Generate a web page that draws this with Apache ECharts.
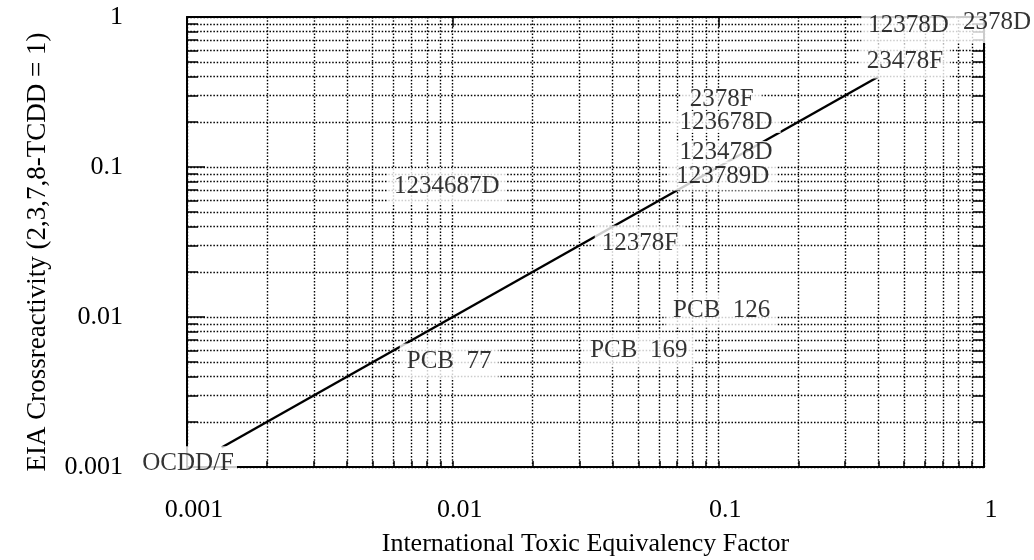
<!DOCTYPE html>
<html><head><meta charset="utf-8">
<script src="https://cdn.jsdelivr.net/npm/echarts@6/dist/echarts.min.js"></script>
<style>html,body{margin:0;padding:0;background:#fff}#c{width:1034px;height:560px}</style>
</head><body><div id="c"></div>
<script>
// Decade ticks and their labels (both axes)
const tickValues = [0.001, 0.01, 0.1, 1];
const tickLabels = ['0.001', '0.01', '0.1', '1'];
// All grid / minor tick positions
const gridValues = [0.001, 0.002, 0.003, 0.004, 0.005, 0.006, 0.007, 0.008, 0.009,
                    0.01, 0.02, 0.03, 0.04, 0.05, 0.06, 0.07, 0.08, 0.09,
                    0.1, 0.2, 0.3, 0.4, 0.5, 0.6, 0.7, 0.8, 0.9, 1];
const innerMajor = [0.01, 0.1];
// 1:1 line (TEF vs crossreactivity)
const lineX = [0.00135, 0.4];
const lineY = [0.00135, 0.4];
// Annotation labels and their anchor positions (data units)
const labelNames = ['12378D', '2378D', '23478F', '2378F', '123678D', '123789D', '123478D',
                    '1234687D', '12378F', 'PCB  126', 'PCB  169', 'PCB  77', 'OCDD/F'];
const labelX = [0.52, 1.13, 0.504, 0.103, 0.107, 0.104, 0.107, 0.0095, 0.0507, 0.103, 0.0502, 0.0097, 0.00101];
const labelY = [0.885, 0.92, 0.509, 0.284, 0.1995, 0.087, 0.126, 0.0747, 0.0311, 0.0111, 0.00603, 0.00509, 0.00105];

const FONT = "'Liberation Serif', 'Times New Roman', serif";
const fmt = v => {
  let best = 0;
  tickValues.forEach((t, i) => { if (Math.abs(Math.log10(v) - Math.log10(t)) < Math.abs(Math.log10(v) - Math.log10(tickValues[best]))) best = i; });
  return tickLabels[best];
};
const dotted = { type: [1.5, 1.8], color: '#000', width: 1.4 };
const black = { color: '#000', width: 2 };
const labelStyles = {
  'OCDD/F': { padding: [4, 3, 6, 3] },
  '2378D': { padding: [6, 10, 10, 8] },
  '2378F': { padding: [1, 8], lineHeight: 20 },
  '123678D': { padding: [1, 8], lineHeight: 20 },
  '123478D': { padding: [1, 8], lineHeight: 20 },
  '123789D': { padding: [6, 8, 3, 8], lineHeight: 20 }
};

const labelData = labelNames.map((n, i) => {
  const item = { name: n, value: [labelX[i], labelY[i]] };
  if (labelStyles[n]) item.label = labelStyles[n];
  return item;
});

const chart = echarts.init(document.getElementById('c'), null, { renderer: 'canvas' });
chart.setOption({
  animation: false,
  backgroundColor: '#fff',
  grid: { left: 187, right: 50, top: 17, bottom: 93, outerBoundsMode: 'none', containLabel: false },
  xAxis: [
    {
      type: 'log', logBase: 10, min: 0.001, max: 1, position: 'bottom',
      axisLine: { show: true, onZero: false, lineStyle: black },
      axisTick: { show: true, inside: true, length: 6, customValues: gridValues, lineStyle: { color: '#000', width: 1.5 } },
      axisLabel: { customValues: tickValues, formatter: fmt, margin: 30, fontSize: 26, fontFamily: FONT, color: '#000', padding: [0, 0, 0, 14] },
      splitLine: { show: true, lineStyle: dotted },
      name: 'International Toxic Equivalency Factor', nameLocation: 'middle', nameGap: 64,
      nameTextStyle: { fontSize: 26, fontFamily: FONT, color: '#000' }
    },
    {
      type: 'log', logBase: 10, min: 0.001, max: 1, position: 'top',
      axisLine: { show: true, onZero: false, lineStyle: black },
      axisTick: { show: true, inside: true, length: 10, customValues: innerMajor, lineStyle: { color: '#000', width: 1.5 } },
      axisLabel: { show: false }, splitLine: { show: false }
    }
  ],
  yAxis: [
    {
      type: 'log', logBase: 10, min: 0.001, max: 1, position: 'left',
      axisLine: { show: true, onZero: false, lineStyle: black },
      axisTick: { show: true, inside: true, length: 11, customValues: gridValues, lineStyle: { color: '#000', width: 1.5 } },
      axisLabel: { customValues: tickValues, formatter: fmt, margin: 64, fontSize: 26, fontFamily: FONT, color: '#000' },
      splitLine: { show: true, lineStyle: dotted },
      name: 'EIA Crossreactivity (2,3,7,8-TCDD = 1)', nameLocation: 'middle', nameGap: 136,
      nameTextStyle: { fontSize: 27, fontFamily: FONT, color: '#000', padding: [0, 20, 0, 0] }
    },
    {
      type: 'log', logBase: 10, min: 0.001, max: 1, position: 'left',
      axisLine: { show: false, onZero: false },
      axisTick: { show: true, inside: true, length: 18, customValues: innerMajor, lineStyle: { color: '#000', width: 1.5 } },
      axisLabel: { show: false }, splitLine: { show: false }
    },
    {
      type: 'log', logBase: 10, min: 0.001, max: 1, position: 'right',
      axisLine: { show: true, onZero: false, lineStyle: black },
      axisTick: { show: true, inside: true, length: 11, customValues: gridValues, lineStyle: { color: '#000', width: 1.5 } },
      axisLabel: { show: false }, splitLine: { show: false }
    }
  ],
  series: [
    {
      type: 'line', xAxisIndex: 0, yAxisIndex: 0, z: 3, silent: true,
      data: lineX.map((x, i) => [x, lineY[i]]),
      showSymbol: false, symbol: 'none',
      lineStyle: { color: '#000', width: 2.4 }
    },
    {
      type: 'scatter', xAxisIndex: 0, yAxisIndex: 0, z: 10, silent: true, clip: false,
      symbolSize: 0,
      data: labelData,
      label: {
        show: true, position: 'inside', formatter: p => p.name,
        fontSize: 25, fontFamily: FONT, color: '#000',
        backgroundColor: '#fff', padding: [5, 7]
      },
      emphasis: { disabled: true }
    }
  ]
});
</script></body></html>
